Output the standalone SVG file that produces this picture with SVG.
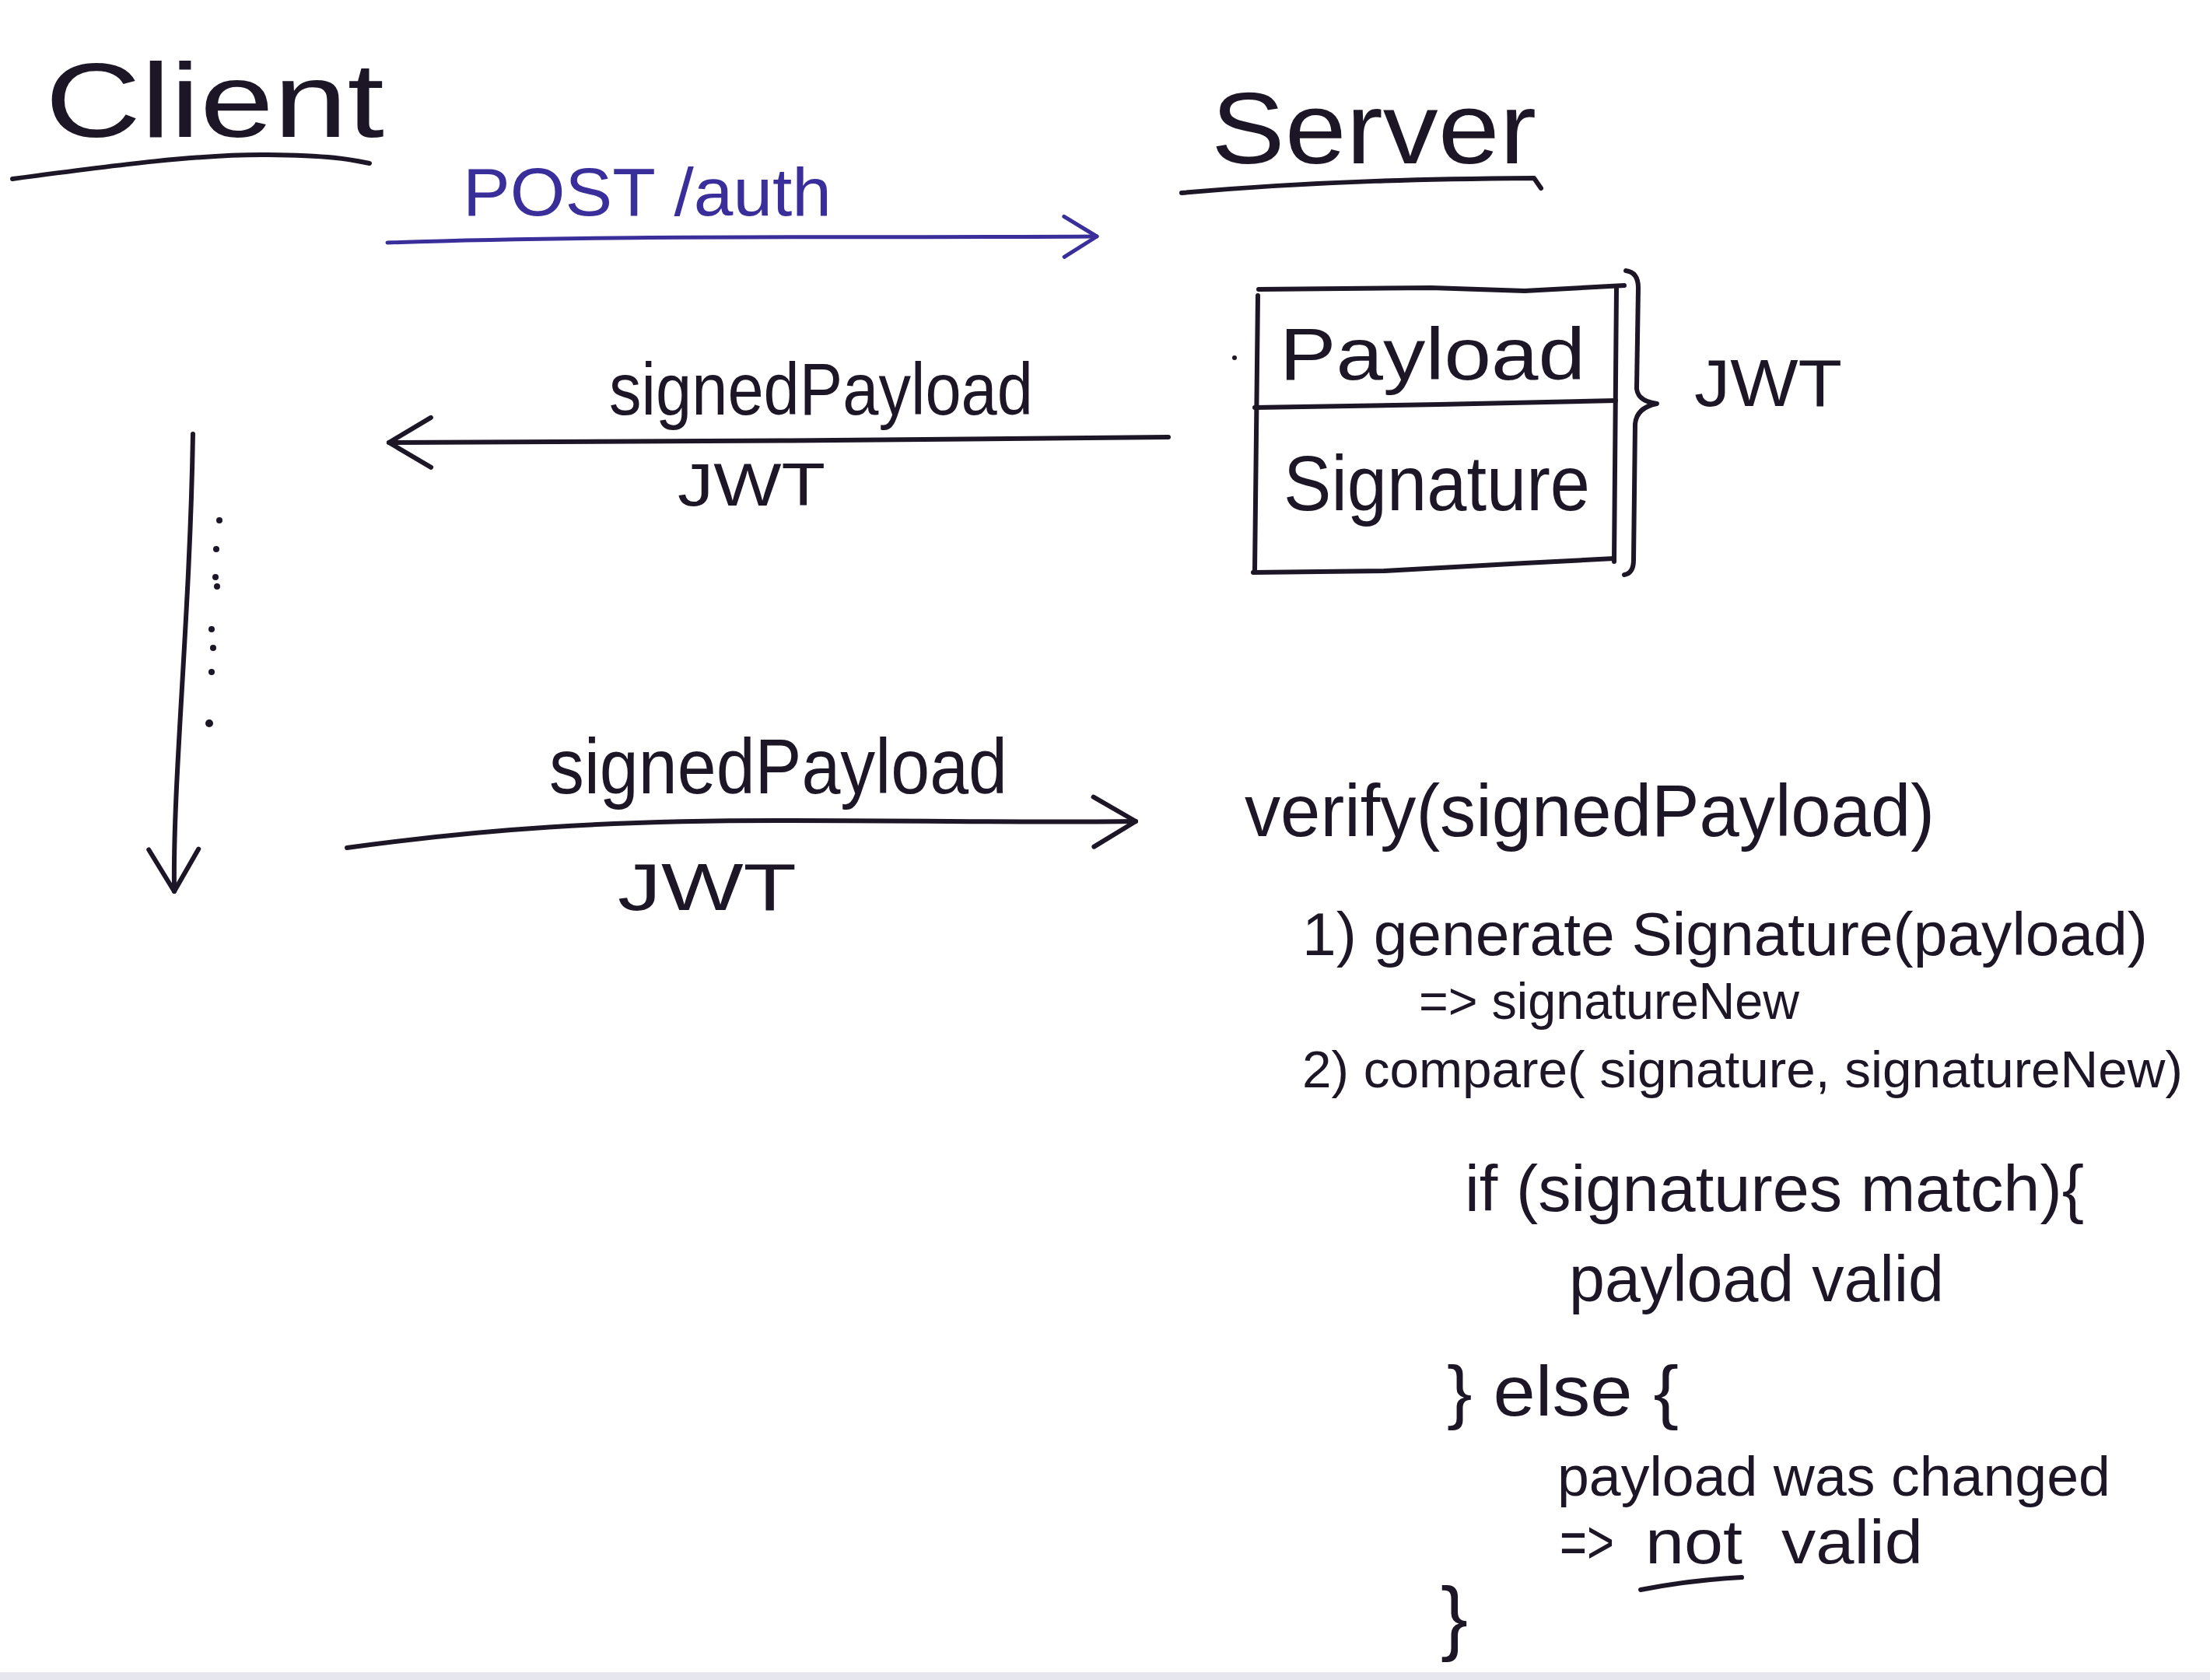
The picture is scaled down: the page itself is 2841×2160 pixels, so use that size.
<svg xmlns="http://www.w3.org/2000/svg" width="2841" height="2160" viewBox="0 0 2841 2160">
<defs>
<style>
.t{font-family:"Liberation Sans",Arial,sans-serif;fill:#1d1626}
.blue{fill:#3a2f9a}
.ln{fill:none;stroke:#1d1626;stroke-width:6;stroke-linecap:round;stroke-linejoin:round}
.lnb{fill:none;stroke:#3a2f9a;stroke-width:5;stroke-linecap:round;stroke-linejoin:round}
.dot{fill:#1d1626}
</style>
<marker id="arrow" viewBox="0 0 62 72" refX="58" refY="36" markerWidth="62" markerHeight="72" markerUnits="userSpaceOnUse" orient="auto">
<path d="M4,4 L58,36 L4,68" fill="none" stroke="#1d1626" stroke-width="6" stroke-linecap="round" stroke-linejoin="round"/>
</marker>
<marker id="arrowBlue" viewBox="0 0 50 60" refX="46" refY="30" markerWidth="50" markerHeight="60" markerUnits="userSpaceOnUse" orient="auto">
<path d="M4,4 L46,30 L4,56" fill="none" stroke="#3a2f9a" stroke-width="5" stroke-linecap="round" stroke-linejoin="round"/>
</marker>
</defs>
<rect x="0" y="0" width="2841" height="2160" fill="#ffffff"/>
<rect x="0" y="2150" width="2841" height="10" fill="#e6e6ee"/>

<g id="client-label">
<text class="t" x="58" y="176" font-size="135" textLength="436" lengthAdjust="spacingAndGlyphs">Client</text>
<path class="ln" d="M16,230 C150,212 260,198 344,199 S450,205 475,210"/>
</g>

<g id="server-label">
<text class="t" x="1557" y="210" font-size="130" textLength="418" lengthAdjust="spacingAndGlyphs">Server</text>
<path class="ln" d="M1519,248 C1700,232 1850,230 1972,229 L1981,242"/>
</g>

<g id="jwt-box">
<path class="ln" d="M1618,372 L1840,370 L1960,374 L2088,367"/>
<path class="ln" d="M1617,380 L1613,735"/>
<path class="ln" d="M2078,370 L2075,722"/>
<path class="ln" d="M1613,524 L1850,520 L2077,515"/>
<path class="ln" d="M1611,736 L1780,734 L1960,724 L2075,718"/>
<text class="t" x="1645" y="488" font-size="95" textLength="393" lengthAdjust="spacingAndGlyphs">Payload</text>
<text class="t" x="1650" y="656" font-size="100" textLength="394" lengthAdjust="spacingAndGlyphs">Signature</text>
<circle class="dot" cx="1587" cy="460" r="3"/>
</g>

<g id="jwt-brace">
<path class="ln" d="M2090,348 Q2106,350 2106,370 L2104,500 Q2106,516 2130,519 Q2104,524 2102,545 L2100,720 Q2100,737 2088,739"/>
<text class="t" x="2178" y="522" font-size="85" textLength="190" lengthAdjust="spacingAndGlyphs">JWT</text>
</g>

<g id="timeline">
<circle class="dot" cx="282" cy="669" r="4"/>
<circle class="dot" cx="278" cy="706" r="4"/>
<circle class="dot" cx="277" cy="742" r="4"/>
<circle class="dot" cx="279" cy="754" r="4"/>
<circle class="dot" cx="272" cy="809" r="4"/>
<circle class="dot" cx="274" cy="833" r="4"/>
<circle class="dot" cx="272" cy="864" r="4"/>
<circle class="dot" cx="269" cy="930" r="5"/>
</g>

<g id="connectors">
<path class="lnb" d="M498,312 C800,302 1100,306 1410,304" marker-end="url(#arrowBlue)"/>
<path class="ln" d="M1502,562 C1200,566 800,568 500,569" marker-end="url(#arrow)"/>
<path class="ln" d="M248,558 C244,800 222,1000 224,1146" marker-end="url(#arrow)"/>
<path class="ln" d="M446,1090 C620,1066 780,1055 1000,1055 S1300,1058 1460,1056" marker-end="url(#arrow)"/>
</g>

<g id="connector-labels">
<text class="t blue" x="595" y="277" font-size="88" textLength="474" lengthAdjust="spacingAndGlyphs">POST /auth</text>
<text class="t" x="783" y="533" font-size="95" textLength="545" lengthAdjust="spacingAndGlyphs">signedPayload</text>
<text class="t" x="871" y="650" font-size="78" textLength="190" lengthAdjust="spacingAndGlyphs">JWT</text>
<text class="t" x="706" y="1020" font-size="100" textLength="589" lengthAdjust="spacingAndGlyphs">signedPayload</text>
<text class="t" x="794" y="1170" font-size="85" textLength="230" lengthAdjust="spacingAndGlyphs">JWT</text>
</g>

<g id="verify-block">
<text class="t" x="1600" y="1075" font-size="95" textLength="887" lengthAdjust="spacingAndGlyphs">verify(signedPayload)</text>
<text class="t" x="1674" y="1228" font-size="78" textLength="1087" lengthAdjust="spacingAndGlyphs">1) generate Signature(payload)</text>
<text class="t" x="1824" y="1310" font-size="66" textLength="489" lengthAdjust="spacingAndGlyphs">=&gt; signatureNew</text>
<text class="t" x="1674" y="1398" font-size="67" textLength="1132" lengthAdjust="spacingAndGlyphs">2) compare( signature, signatureNew)</text>
<text class="t" x="1883" y="1557" font-size="84" textLength="796" lengthAdjust="spacingAndGlyphs">if (signatures match){</text>
<text class="t" x="2017" y="1673" font-size="84" textLength="482" lengthAdjust="spacingAndGlyphs">payload valid</text>
<text class="t" x="1860" y="1820" font-size="90" textLength="298" lengthAdjust="spacingAndGlyphs">} else {</text>
<text class="t" x="2002" y="1923" font-size="73" textLength="711" lengthAdjust="spacingAndGlyphs">payload was changed</text>
<text class="t" y="2010" font-size="80"><tspan x="2005" textLength="70" lengthAdjust="spacingAndGlyphs">=&gt;</tspan> <tspan x="2115" textLength="125" lengthAdjust="spacingAndGlyphs">not</tspan> <tspan x="2290" textLength="182" lengthAdjust="spacingAndGlyphs">valid</tspan></text>
<path class="ln" d="M2109,2044 C2150,2036 2200,2030 2239,2028"/>
<text class="t" x="1852" y="2115" font-size="105">}</text>
</g>
</svg>
